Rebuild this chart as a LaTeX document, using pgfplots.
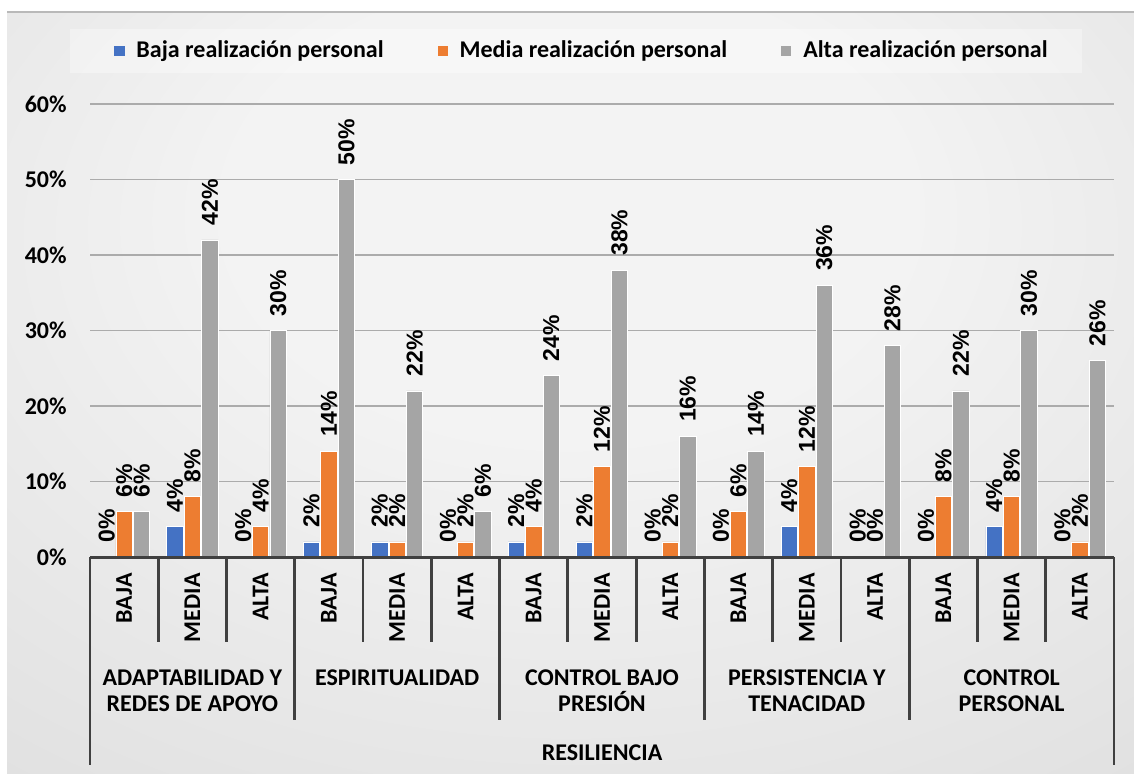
\documentclass[border=0pt]{standalone}
\usepackage{pgfplots}
\pgfplotsset{compat=1.18}
\usepackage{pgfplotstable}
\usepackage{fontspec}
\setmainfont{Carlito}
\newfontfamily\arialfont{Liberation Sans}

\definecolor{cBaja}{HTML}{4472C4}
\definecolor{cMedia}{HTML}{ED7D31}
\definecolor{cAlta}{HTML}{A5A5A5}
\definecolor{gridc}{HTML}{ABABAB}
\definecolor{axc}{HTML}{404040}
\definecolor{bgA}{HTML}{F3F3F3}
\definecolor{bgB}{HTML}{DEDEDE}
\definecolor{bgC}{HTML}{C6C6C6}

\pgfdeclareradialshading{bgshade}{\pgfpoint{0bp}{15bp}}{%
  color(0bp)=(bgA); color(15bp)=(bgA); color(45bp)=(bgB); color(75bp)=(bgC)}

% valores en porcentaje
\pgfplotstableread{
x baja media alta
0  0  6  6
1  4  8  42
2  0  4  30
3  2  14 50
4  2  2  22
5  0  2  6
6  2  4  24
7  2  12 38
8  0  2  16
9  0  6  14
10 4  12 36
11 0  0  28
12 0  8  22
13 4  8  30
14 0  2  26
}\datatable

\pgfplotsset{
  mybar/.style={fill=#1, draw=white, line width=0.4pt,
    legend image code/.code={\fill[#1] (0pt,-2.3pt) rectangle (4.6pt,2.3pt);}},
}

\begin{document}
\begin{tikzpicture}
\useasboundingbox (0,0) rectangle (567pt,386.5pt);
\fill[white] (0,0) rectangle (567pt,386.5pt);
\shade[shading=bgshade] (3.5pt,0) rectangle (567pt,380.5pt);
\draw[gray!55, line width=0.6pt] (3.5pt,380.5pt) -- (567pt,380.5pt);
% caja de la leyenda
\fill[white, opacity=0.35] (35pt,350pt) rectangle (541pt,372pt);

\begin{axis}[
    at={(45pt,108pt)}, anchor=south west,
    scale only axis,
    width=512pt, height=226.5pt,
    xmin=-0.5, xmax=14.5,
    ymin=0, ymax=60,
    ybar=0pt, bar width=0.24,
    clip=false,
    axis line style={draw=none},
    major tick length=0pt,
    /pgf/number format/assume math mode=true,
    ytick={0,10,...,60},
    yticklabel={\pgfmathprintnumber{\tick}\%},
    yticklabel style={font=\bfseries\fontsize{12}{14}\selectfont, inner sep=0pt},
    yticklabel shift=11.5pt,
    ymajorgrids,
    grid style={line width=0.9pt, gridc},
    xtick={0,...,14},
    xticklabels={BAJA,MEDIA,ALTA,BAJA,MEDIA,ALTA,BAJA,MEDIA,ALTA,BAJA,MEDIA,ALTA,BAJA,MEDIA,ALTA},
    xticklabel style={rotate=90, anchor=east, inner sep=0pt,
      font=\bfseries\fontsize{12}{14}\selectfont},
    xticklabel shift=8pt,
    nodes near coords={\pgfmathprintnumber{\pgfplotspointmeta}\%},
    every node near coord/.append style={rotate=90, anchor=west,
      inner xsep=7pt, inner ysep=0pt, text=black,
      font=\arialfont\bfseries\fontsize{11.5}{13}\selectfont},
    legend columns=3,
    legend style={at={(0.4795,1.117)}, anchor=center, draw=none, fill=none,
      font=\bfseries\fontsize{12}{14}\selectfont,
      nodes={inner ysep=0pt, inner xsep=0pt},
      /tikz/every odd column/.append style={column sep=6pt},
      /tikz/every even column/.append style={column sep=27pt}},
]
\addplot[mybar=cBaja, bar shift=-0.256] table[x=x, y=baja] {\datatable};
\addlegendentry{Baja realización personal}
\addplot[mybar=cMedia, bar shift=0] table[x=x, y=media] {\datatable};
\addlegendentry{Media realización personal}
\addplot[mybar=cAlta, bar shift=0.256] table[x=x, y=alta] {\datatable};
\addlegendentry{Alta realización personal}

% eje horizontal y separadores de categorías
\draw[axc, line width=1.5pt] (axis cs:-0.5,0) -- (axis cs:14.5,0);
\pgfplotsinvokeforeach{0.5,1.5,3.5,4.5,6.5,7.5,9.5,10.5,12.5,13.5}{
  \draw[axc, line width=1.4pt] (axis cs:#1,0) -- ++(0pt,-42.5pt);
}
\pgfplotsinvokeforeach{2.5,5.5,8.5,11.5}{
  \draw[axc, line width=1.4pt] (axis cs:#1,0) -- ++(0pt,-81.5pt);
}
\pgfplotsinvokeforeach{-0.5,14.5}{
  \draw[axc, line width=1.4pt] (axis cs:#1,0) -- ++(0pt,-104pt);
}

% etiquetas de grupo
\begin{scope}[every node/.style={anchor=base, font=\bfseries\fontsize{12}{14}\selectfont, inner sep=0pt}]
\node at ([yshift=-64pt]axis cs:1,0) {ADAPTABILIDAD Y};
\node at ([yshift=-77pt]axis cs:1,0) {REDES DE APOYO};
\node at ([yshift=-64pt]axis cs:4,0) {ESPIRITUALIDAD};
\node at ([yshift=-64pt]axis cs:7,0) {CONTROL BAJO};
\node at ([yshift=-77pt]axis cs:7,0) {PRESIÓN};
\node at ([yshift=-64pt]axis cs:10,0) {PERSISTENCIA Y};
\node at ([yshift=-77pt]axis cs:10,0) {TENACIDAD};
\node at ([yshift=-64pt]axis cs:13,0) {CONTROL};
\node at ([yshift=-77pt]axis cs:13,0) {PERSONAL};
\node at ([yshift=-101.5pt]axis cs:7,0) {RESILIENCIA};
\end{scope}
\end{axis}
\end{tikzpicture}
\end{document}
